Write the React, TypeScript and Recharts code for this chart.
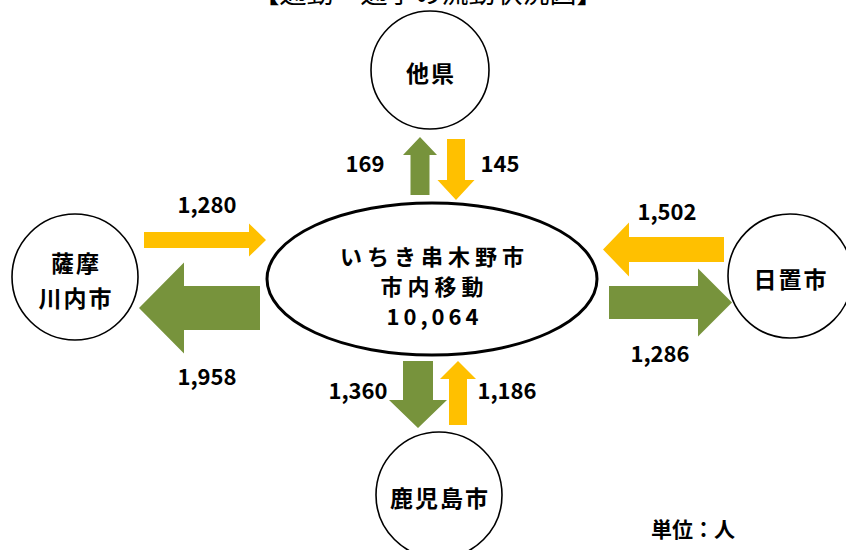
import React from "react";
import { ScatterChart, Scatter, XAxis, YAxis } from "recharts";

const W = 846;
const H = 550;

// ---- content / values ----
const title = "【通勤・通学の流動状況図】";
const unitLabel = "単位：人";
const centerLines = ["いちき串木野市", "市内移動"];
const internalFlow = 10064;

const places = ["他県", "薩摩川内市", "日置市", "鹿児島市"];
const placeLines = [["他県"], ["薩摩", "川内市"], ["日置市"], ["鹿児島市"]];
const inflow = [145, 1280, 1502, 1186]; // into いちき串木野市 (yellow)
const outflow = [169, 1958, 1286, 1360]; // out of いちき串木野市 (green)

// ---- layout (chart coordinate units) ----
const FONT = "'Noto Sans CJK JP', 'Noto Sans', sans-serif";
const YELLOW = "#FFC000";
const GREEN = "#77933C";

const centerLayout = { x: 432, y: 279, rx: 165, ry: 76 };
const placeLayout = [
  { x: 430, y: 70, r: 59 },
  { x: 75, y: 277, r: 63 },
  { x: 790, y: 276, r: 62 },
  { x: 439, y: 495, r: 63 },
];
const inArrowLayout = [
  { x: 456, y: 169.5, dir: "down", len: 61, sw: 18, hw: 37, hl: 20, lx: 500, ly: 162 },
  { x: 205, y: 240, dir: "right", len: 122, sw: 16, hw: 33, hl: 17, lx: 207, ly: 203 },
  { x: 663.5, y: 249.5, dir: "left", len: 121, sw: 25, hw: 54, hl: 26, lx: 667, ly: 210 },
  { x: 458, y: 393, dir: "up", len: 64, sw: 18, hw: 36, hl: 18, lx: 507, ly: 389 },
];
const outArrowLayout = [
  { x: 420, y: 166, dir: "up", len: 58, sw: 19, hw: 34, hl: 18, lx: 365, ly: 162 },
  { x: 199.5, y: 308, dir: "left", len: 121, sw: 44, hw: 91, hl: 45, lx: 207, ly: 375 },
  { x: 670.5, y: 302.5, dir: "right", len: 123, sw: 33, hw: 68, hl: 34, lx: 660, ly: 352 },
  { x: 418, y: 394.5, dir: "down", len: 67, sw: 30, hw: 58, hl: 28, lx: 358, ly: 389 },
];
const titleLayout = { x: 428, y: 3 };
const unitLayout = { x: 693, y: 528 };

const fmt = (v: number) => v.toLocaleString("en-US");

// ---- data for the chart ----
const centerData = [{ ...centerLayout, lines: [...centerLines, fmt(internalFlow)] }];
const placeData = places.map((p, i) => ({ ...placeLayout[i], name: p, lines: placeLines[i] }));
const arrowData = [
  ...inflow.map((v, i) => ({ ...inArrowLayout[i], value: v, color: YELLOW })),
  ...outflow.map((v, i) => ({ ...outArrowLayout[i], value: v, color: GREEN })),
];
const flowLabelData = arrowData.map((a) => ({ x: a.lx, y: a.ly, text: fmt(a.value) }));
const titleData = [{ ...titleLayout, text: title }];
const unitData = [{ ...unitLayout, text: unitLabel }];

const CenterShape = (props: any) => {
  const { cx, cy, payload } = props;
  const sp = 5;
  return (
    <g>
      <ellipse cx={cx} cy={cy} rx={payload.rx} ry={payload.ry} fill="#fff" stroke="#000" strokeWidth={3} />
      {payload.lines.map((t: string, i: number) => (
        <text
          key={i}
          x={cx + sp / 2}
          y={cy - 24 + i * 30}
          textAnchor="middle"
          dominantBaseline="central"
          fontFamily={FONT}
          fontWeight={700}
          fontSize={22}
          letterSpacing={i === 2 ? 4 : sp}
          fill="#000"
        >
          {t}
        </text>
      ))}
    </g>
  );
};

const PlaceShape = (props: any) => {
  const { cx, cy, payload } = props;
  const n = payload.lines.length;
  return (
    <g>
      <circle cx={cx} cy={cy} r={payload.r} fill="#fff" stroke="#000" strokeWidth={1.6} />
      {payload.lines.map((t: string, i: number) => (
        <text
          key={i}
          x={cx + 1}
          y={cy + 2 + (i - (n - 1) / 2) * 35}
          textAnchor="middle"
          dominantBaseline="central"
          fontFamily={FONT}
          fontWeight={700}
          fontSize={23}
          letterSpacing={2}
          fill="#000"
        >
          {t}
        </text>
      ))}
    </g>
  );
};

const ArrowShape = (props: any) => {
  const { cx, cy, payload } = props;
  const { dir, len, sw, hw, hl, color } = payload;
  const L = len / 2;
  const local: [number, number][] = [
    [-L, -sw / 2],
    [L - hl, -sw / 2],
    [L - hl, -hw / 2],
    [L, 0],
    [L - hl, hw / 2],
    [L - hl, sw / 2],
    [-L, sw / 2],
  ];
  const map = ([u, v]: [number, number]): [number, number] => {
    if (dir === "right") return [cx + u, cy + v];
    if (dir === "left") return [cx - u, cy + v];
    if (dir === "down") return [cx + v, cy + u];
    return [cx + v, cy - u];
  };
  const pts = local.map(map).map(([a, b]) => `${a},${b}`).join(" ");
  return <polygon points={pts} fill={color} stroke="none" />;
};

const LabelShape = (props: any) => {
  const { cx, cy, payload } = props;
  return (
    <text
      x={cx}
      y={cy}
      textAnchor="middle"
      dominantBaseline="central"
      fontFamily={FONT}
      fontWeight={700}
      fontSize={22}
      fill="#000"
    >
      {payload.text}
    </text>
  );
};

const TitleShape = (props: any) => {
  const { cx, cy, payload } = props;
  return (
    <text x={cx} y={cy} textAnchor="middle" fontFamily={FONT} fontWeight={400} fontSize={27} fill="#000">
      {payload.text}
    </text>
  );
};

const UnitShape = (props: any) => {
  const { cx, cy, payload } = props;
  return (
    <text
      x={cx}
      y={cy}
      textAnchor="middle"
      dominantBaseline="central"
      fontFamily={FONT}
      fontWeight={700}
      fontSize={21}
      fill="#000"
    >
      {payload.text}
    </text>
  );
};

export default function App() {
  return (
    <div style={{ position: "absolute", left: 0, top: 0, width: W, height: H, background: "#fff" }}>
      <ScatterChart width={W} height={H} margin={{ top: 0, right: 0, bottom: 0, left: 0 }}>
        <XAxis type="number" dataKey="x" domain={[0, W]} hide allowDataOverflow />
        <YAxis type="number" dataKey="y" domain={[0, H]} hide reversed allowDataOverflow />
        <Scatter data={titleData} shape={TitleShape} isAnimationActive={false} />
        <Scatter data={arrowData} shape={ArrowShape} isAnimationActive={false} />
        <Scatter data={centerData} shape={CenterShape} isAnimationActive={false} />
        <Scatter data={placeData} shape={PlaceShape} isAnimationActive={false} />
        <Scatter data={flowLabelData} shape={LabelShape} isAnimationActive={false} />
        <Scatter data={unitData} shape={UnitShape} isAnimationActive={false} />
      </ScatterChart>
    </div>
  );
}
